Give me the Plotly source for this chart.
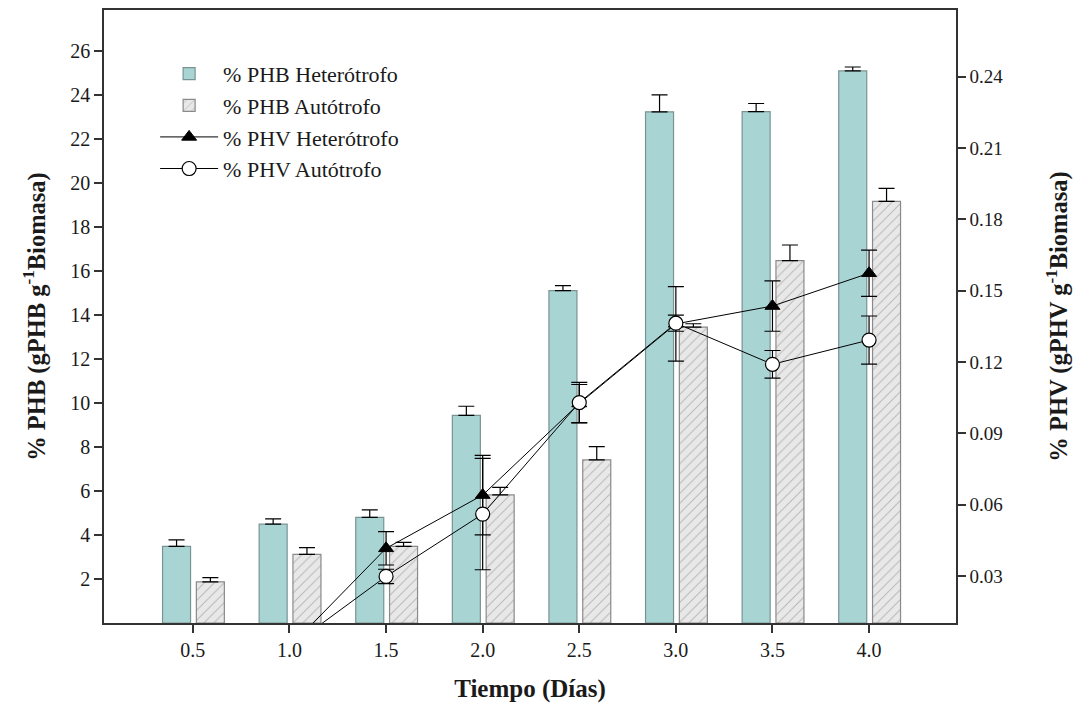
import plotly.graph_objects as go

# ---- data ----
dias = [0.5, 1.0, 1.5, 2.0, 2.5, 3.0, 3.5, 4.0]
dias_labels = ["0.5", "1.0", "1.5", "2.0", "2.5", "3.0", "3.5", "4.0"]

phb_het = [3.48, 4.49, 4.80, 9.44, 15.11, 23.23, 23.24, 25.09]
phb_het_err = [0.30, 0.24, 0.34, 0.41, 0.22, 0.77, 0.37, 0.18]
phb_aut = [1.87, 3.12, 3.48, 5.82, 7.41, 13.45, 16.47, 19.16]
phb_aut_err = [0.19, 0.31, 0.18, 0.34, 0.61, 0.15, 0.71, 0.59]

dias_phv = [1.0, 1.5, 2.0, 2.5, 3.0, 3.5, 4.0]
phv_het = [0.0, 0.0416, 0.0640, 0.1025, 0.1360, 0.1435, 0.1573]
phv_het_err = [0.0, 0.0070, 0.0167, 0.0080, 0.0157, 0.0106, 0.0097]
phv_aut = [0.0, 0.0298, 0.0560, 0.1029, 0.1363, 0.1190, 0.1292]
phv_aut_err = [0.0, 0.0030, 0.0234, 0.0085, 0.0034, 0.0058, 0.0101]

left_ticks = [2, 4, 6, 8, 10, 12, 14, 16, 18, 20, 22, 24, 26]
right_ticks = [0.03, 0.06, 0.09, 0.12, 0.15, 0.18, 0.21, 0.24]

FONT = "Liberation Serif"
TEAL = "#a8d5d4"
ZEROS = [0] * len(dias)

fig = go.Figure()

fig.add_trace(go.Bar(
    x=dias, y=phb_het, name="% PHB Heterótrofo",
    width=0.145, offset=-0.157,
    marker=dict(color=TEAL, line=dict(color="#7a9392", width=1.2)),
    error_y=dict(type="data", array=phb_het_err, arrayminus=ZEROS, symmetric=False,
                 color="black", thickness=1.2, width=8),
))
fig.add_trace(go.Bar(
    x=dias, y=phb_aut, name="% PHB Autótrofo",
    width=0.145, offset=0.018,
    marker=dict(color="#e8e8e8", line=dict(color="#8a8a8a", width=1.2),
                pattern=dict(shape="/", fgcolor="#8c8c8c", bgcolor="#e8e8e8",
                             size=7, solidity=0.15)),
    error_y=dict(type="data", array=phb_aut_err, arrayminus=ZEROS, symmetric=False,
                 color="black", thickness=1.2, width=8),
))
fig.add_trace(go.Scatter(
    x=dias_phv, y=phv_het, name="% PHV Heterótrofo", yaxis="y2",
    mode="lines+markers", cliponaxis=True,
    line=dict(color="black", width=1),
    marker=dict(symbol="triangle-up", size=13, color="black",
                line=dict(color="black", width=1)),
    error_y=dict(type="data", array=phv_het_err, color="black", thickness=1.2, width=8),
))
fig.add_trace(go.Scatter(
    x=dias_phv, y=phv_aut, name="% PHV Autótrofo", yaxis="y2",
    mode="lines+markers", cliponaxis=True,
    line=dict(color="black", width=1),
    marker=dict(symbol="circle", size=14, color="white",
                line=dict(color="black", width=1.2)),
    error_y=dict(type="data", array=phv_aut_err, color="black", thickness=1.2, width=8),
))

axis_line = dict(showline=True, linecolor="#333333", linewidth=1.5,
                 ticks="outside", ticklen=8, tickcolor="#333333", tickwidth=1.5,
                 showgrid=False, zeroline=False)

fig.update_layout(
    width=1067, height=695,
    margin=dict(l=96, r=119, t=2, b=80),
    paper_bgcolor="white", plot_bgcolor="white",
    barmode="overlay",
    font=dict(family=FONT, size=20, color="#1a1a1a"),
    xaxis=dict(range=[0.04, 4.45], tickvals=dias, ticktext=dias_labels,
               mirror=True, tickfont=dict(size=20), automargin=False,
               title=dict(text="<b>Tiempo (Días)</b>", font=dict(size=25), standoff=24),
               **axis_line),
    yaxis=dict(range=[0, 27.86], tickvals=left_ticks, tickfont=dict(size=20),
               title=dict(text="<b>% PHB (gPHB g<sup>-1</sup>Biomasa)</b>",
                          font=dict(size=24.5), standoff=18),
               **axis_line),
    yaxis2=dict(range=[0.0102, 0.268], tickvals=right_ticks, tickformat=".2f",
                overlaying="y", side="right", tickfont=dict(size=19),
                title=dict(text="<b>% PHV (gPHV g<sup>-1</sup>Biomasa)</b>",
                           font=dict(size=24.5), standoff=48),
                **axis_line),
    legend=dict(x=0.06, y=0.93, xanchor="left", yanchor="top",
                bgcolor="rgba(0,0,0,0)", font=dict(size=22, family=FONT),
                itemwidth=58, tracegroupgap=0),
    showlegend=True,
)

fig.write_html("out.html")
